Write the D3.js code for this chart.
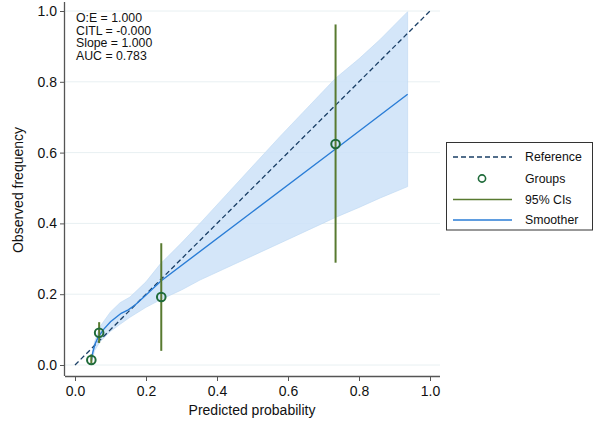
<!DOCTYPE html>
<html><head><meta charset="utf-8">
<script src="https://cdn.jsdelivr.net/npm/d3@7"></script>
<style>body{margin:0;background:#fff;}svg{font-family:"Liberation Sans",Arial,sans-serif;}</style>
</head><body><svg id="c" width="600" height="437"></svg>
<script>
// Data
const groupPred = [0.046, 0.068, 0.243, 0.734];
const groupObs  = [0.014, 0.091, 0.192, 0.624];
const ciLow     = [0.004, 0.062, 0.040, 0.289];
const ciHigh    = [0.030, 0.121, 0.344, 0.962];
const smoothX   = [0.046, 0.050, 0.056, 0.065, 0.080, 0.100, 0.130, 0.150, 0.170, 0.200, 0.243, 0.500, 0.734, 0.937];
const smoothY   = [0.012, 0.035, 0.058, 0.078, 0.100, 0.122, 0.146, 0.156, 0.170, 0.198, 0.238, 0.433, 0.610, 0.765];
const bandX     = [0.046, 0.055, 0.070, 0.100, 0.127, 0.155, 0.200, 0.240, 0.300, 0.352, 0.577, 0.734, 0.800, 0.860, 0.937];
const bandLow   = [0.004, 0.040, 0.065, 0.095, 0.115, 0.135, 0.163, 0.184, 0.212, 0.240, 0.344, 0.417, 0.445, 0.472, 0.504];
const bandHigh  = [0.022, 0.065, 0.108, 0.150, 0.176, 0.192, 0.235, 0.285, 0.345, 0.400, 0.645, 0.810, 0.865, 0.920, 0.998];
const ticks     = [0, 0.2, 0.4, 0.6, 0.8, 1.0];
const stats     = ["O:E = 1.000", "CITL = -0.000", "Slope = 1.000", "AUC = 0.783"];
const legendItems = ["Reference", "Groups", "95% CIs", "Smoother"];

const svg = d3.select("#c");
const x = d3.scaleLinear().domain([0, 1]).range([75, 430]);
const y = d3.scaleLinear().domain([0, 1]).range([365, 11]);

// gridlines
svg.append("g").selectAll("line").data(ticks).join("line")
  .attr("x1", 65).attr("x2", 440).attr("y1", d => y(d)).attr("y2", d => y(d))
  .attr("stroke", "#e8f0f2").attr("stroke-width", 1);

// band
const band = bandX.map((d, i) => ({x: d, lo: bandLow[i], hi: bandHigh[i]}));
svg.append("path").datum(band)
  .attr("d", d3.area().x(d => x(d.x)).y0(d => y(d.lo)).y1(d => y(d.hi)))
  .attr("fill", "#cde2f8").attr("fill-opacity", 0.85).attr("stroke", "#bcd7f2").attr("stroke-width", 0.6);

// reference line
svg.append("path").datum([0, 1])
  .attr("d", d3.line().x(d => x(d)).y(d => y(d)))
  .attr("stroke", "#1a3f66").attr("stroke-width", 1.3).attr("stroke-dasharray", "5,3").attr("fill", "none");

// smoother
const sm = smoothX.map((d, i) => [d, smoothY[i]]);
svg.append("path").datum(sm)
  .attr("d", d3.line().x(d => x(d[0])).y(d => y(d[1])))
  .attr("stroke", "#2a7dd6").attr("stroke-width", 1.4).attr("fill", "none");

// CIs
svg.append("g").selectAll("line").data(groupPred).join("line")
  .attr("x1", d => x(d)).attr("x2", d => x(d))
  .attr("y1", (d, i) => y(ciLow[i])).attr("y2", (d, i) => y(ciHigh[i]))
  .attr("stroke", "#587a30").attr("stroke-width", 2);

// groups
svg.append("g").selectAll("circle").data(groupPred).join("circle")
  .attr("cx", d => x(d)).attr("cy", (d, i) => y(groupObs[i])).attr("r", 4.3)
  .attr("fill", "none").attr("stroke", "#1f6b3a").attr("stroke-width", 2);

// axes
const xAxis = d3.axisBottom(x).tickValues(ticks).tickFormat(d3.format(".1f")).tickSize(5).tickSizeOuter(0);
const gx = svg.append("g").attr("transform", "translate(0,376)").call(xAxis);
gx.select(".domain").attr("d", "M65,0.5H440").attr("stroke", "#555").attr("stroke-width", 1.3);
gx.selectAll(".tick line").attr("stroke", "#555");
gx.selectAll("text").attr("font-size", 14).attr("fill", "#111").attr("dy", "0.85em").attr("font-family", "Liberation Sans, Arial, sans-serif");

const yAxis = d3.axisLeft(y).tickValues(ticks).tickFormat(d3.format(".1f")).tickSize(5).tickSizeOuter(0);
const gy = svg.append("g").attr("transform", "translate(65,0)").call(yAxis);
gy.select(".domain").attr("d", "M-0.5,376V2").attr("stroke", "#555").attr("stroke-width", 1.3);
gy.selectAll(".tick line").attr("stroke", "#555");
gy.selectAll("text").attr("font-size", 14).attr("fill", "#111").attr("x", -8).attr("font-family", "Liberation Sans, Arial, sans-serif");

// axis titles
svg.append("text").attr("x", 252).attr("y", 415).attr("text-anchor", "middle")
  .attr("font-size", 14).attr("fill", "#111").text("Predicted probability");
svg.append("text").attr("transform", "translate(23,190) rotate(-90)").attr("text-anchor", "middle")
  .attr("font-size", 14).attr("fill", "#111").text("Observed frequency");

// stats text
svg.append("g").selectAll("text").data(stats).join("text")
  .attr("x", 76).attr("y", (d, i) => 21.8 + i * 12.8)
  .attr("font-size", 12.3).attr("fill", "#111").text(d => d);

// legend
const lg = svg.append("g");
lg.append("rect").attr("x", 446.5).attr("y", 142.5).attr("width", 146).attr("height", 87.5)
  .attr("fill", "#fff").attr("stroke", "#333").attr("stroke-width", 1);
const rowY = [157, 178.5, 199.5, 220];
legendItems.forEach((t, i) => {
  const ry = rowY[i];
  if (i === 0) lg.append("line").attr("x1", 453).attr("x2", 512).attr("y1", ry).attr("y2", ry)
      .attr("stroke", "#1a3f66").attr("stroke-width", 1.3).attr("stroke-dasharray", "5,3");
  if (i === 1) lg.append("circle").attr("cx", 482).attr("cy", ry).attr("r", 3.6)
      .attr("fill", "none").attr("stroke", "#1f6b3a").attr("stroke-width", 1.6);
  if (i === 2) lg.append("line").attr("x1", 453).attr("x2", 512).attr("y1", ry).attr("y2", ry)
      .attr("stroke", "#587a30").attr("stroke-width", 1.3);
  if (i === 3) lg.append("line").attr("x1", 453).attr("x2", 512).attr("y1", ry).attr("y2", ry)
      .attr("stroke", "#2a7dd6").attr("stroke-width", 1.3);
  lg.append("text").attr("x", 525).attr("y", ry).attr("dy", "0.35em")
    .attr("font-size", 12.3).attr("fill", "#111").text(t);
});
</script></body></html>
